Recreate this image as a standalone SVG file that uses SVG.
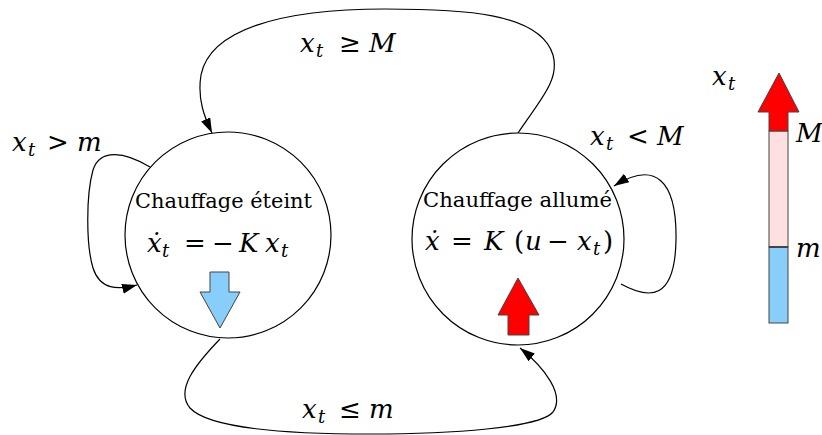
<svg xmlns="http://www.w3.org/2000/svg" width="822" height="435" viewBox="0 0 822 435">
<defs>
<marker id="ah" markerWidth="16" markerHeight="12" refX="15" refY="5" orient="auto" markerUnits="userSpaceOnUse">
<path d="M0,0 L15,5 L0,10 Z" fill="#000"/>
</marker>
<style>
.st{fill:#fff;stroke:#000;stroke-width:1.2}
.cn{fill:none;stroke:#000;stroke-width:1.2}
text{font-family:'DejaVu Serif','Liberation Serif',serif;fill:#000}
.rm{font-size:21px}
.m{font-size:26px}
.i{font-style:italic}
.s{font-size:18px;font-style:italic}
.ar{stroke:#444;stroke-width:1}
</style>
</defs>
<rect width="822" height="435" fill="#fff"/>
<g id="connectors">
<path class="cn" d="M518,133 C540,100 560,80 553,55 C540,12 460,9 385,9 C280,9 210,30 201,75 C197,100 205,118 212,133" marker-end="url(#ah)"/>
<path class="cn" d="M150,167 C125,152 100,148 93,170 C86,195 86,245 93,268 C100,290 118,290 137,285" marker-end="url(#ah)"/>
<path class="cn" d="M621,284 C650,300 675,300 676,240 C677,180 655,160 614,186" marker-end="url(#ah)"/>
<path class="cn" d="M220,339 C195,365 175,390 190,408 C210,430 300,434 370,434 C450,434 540,428 553,412 C565,395 545,368 520,348" marker-end="url(#ah)"/>
<text class="m" y="52"><tspan class="i" x="300">x</tspan><tspan class="s" x="316" dy="5">t</tspan><tspan x="339" dy="-5">≥</tspan><tspan class="i" x="369">M</tspan></text>
<text class="m" y="151"><tspan class="i" x="12">x</tspan><tspan class="s" x="28" dy="5">t</tspan><tspan x="47" dy="-5">&gt;</tspan><tspan class="i" x="77">m</tspan></text>
<text class="m" y="145"><tspan class="i" x="590">x</tspan><tspan class="s" x="606" dy="5">t</tspan><tspan x="627" dy="-5">&lt;</tspan><tspan class="i" x="657">M</tspan></text>
<text class="m" y="418"><tspan class="i" x="302">x</tspan><tspan class="s" x="318" dy="5">t</tspan><tspan x="339" dy="-5">≤</tspan><tspan class="i" x="369">m</tspan></text>
</g>
<g id="off">
<circle class="st" cx="228" cy="235" r="103"/>
<text class="rm" x="135" y="208" textLength="177" lengthAdjust="spacingAndGlyphs">Chauffage éteint</text>
<text class="m" y="252"><tspan class="i" x="147">ẋ</tspan><tspan class="s" x="162" dy="5">t</tspan><tspan x="184" dy="-5">=</tspan><tspan x="212">−</tspan><tspan class="i" x="239">K</tspan><tspan class="i" x="265">x</tspan><tspan class="s" x="281" dy="5">t</tspan></text>
<polygon class="ar" fill="#87CEFA" points="210,272 229,272 229,292 240,292 220,328 200,292 210,292"/>
</g>
<g id="on">
<circle class="st" cx="518" cy="239" r="106"/>
<text class="rm" x="423" y="207" textLength="189" lengthAdjust="spacingAndGlyphs">Chauffage allumé</text>
<text class="m" y="250"><tspan class="i" x="425">ẋ</tspan><tspan x="451">=</tspan><tspan class="i" x="484">K</tspan><tspan x="514">(</tspan><tspan class="i" x="525">u</tspan><tspan x="547">−</tspan><tspan class="i" x="577">x</tspan><tspan class="s" x="593" dy="5">t</tspan><tspan x="603" dy="-5">)</tspan></text>
<polygon class="ar" fill="#FF0000" points="518,278 539,315 529,315 529,335 508,335 508,315 498,315"/>
</g>
<g id="scale">
<rect x="769" y="131" width="19" height="116" fill="#FFE0E0" stroke="#444" stroke-width="1"/>
<rect x="769" y="247" width="19" height="76" fill="#87CEFA" stroke="#444" stroke-width="1"/>
<line x1="769" y1="247" x2="788" y2="247" stroke="#444" stroke-width="2"/>
<polygon class="ar" fill="#FF0000" points="769,131 769,112 758,112 779,73 799,112 788,112 788,131"/>
<text class="m" y="85"><tspan class="i" x="712">x</tspan><tspan class="s" x="728" dy="5">t</tspan></text>
<text class="m i" x="796" y="142">M</text>
<text class="m i" x="796" y="257">m</text>
</g>
</svg>
